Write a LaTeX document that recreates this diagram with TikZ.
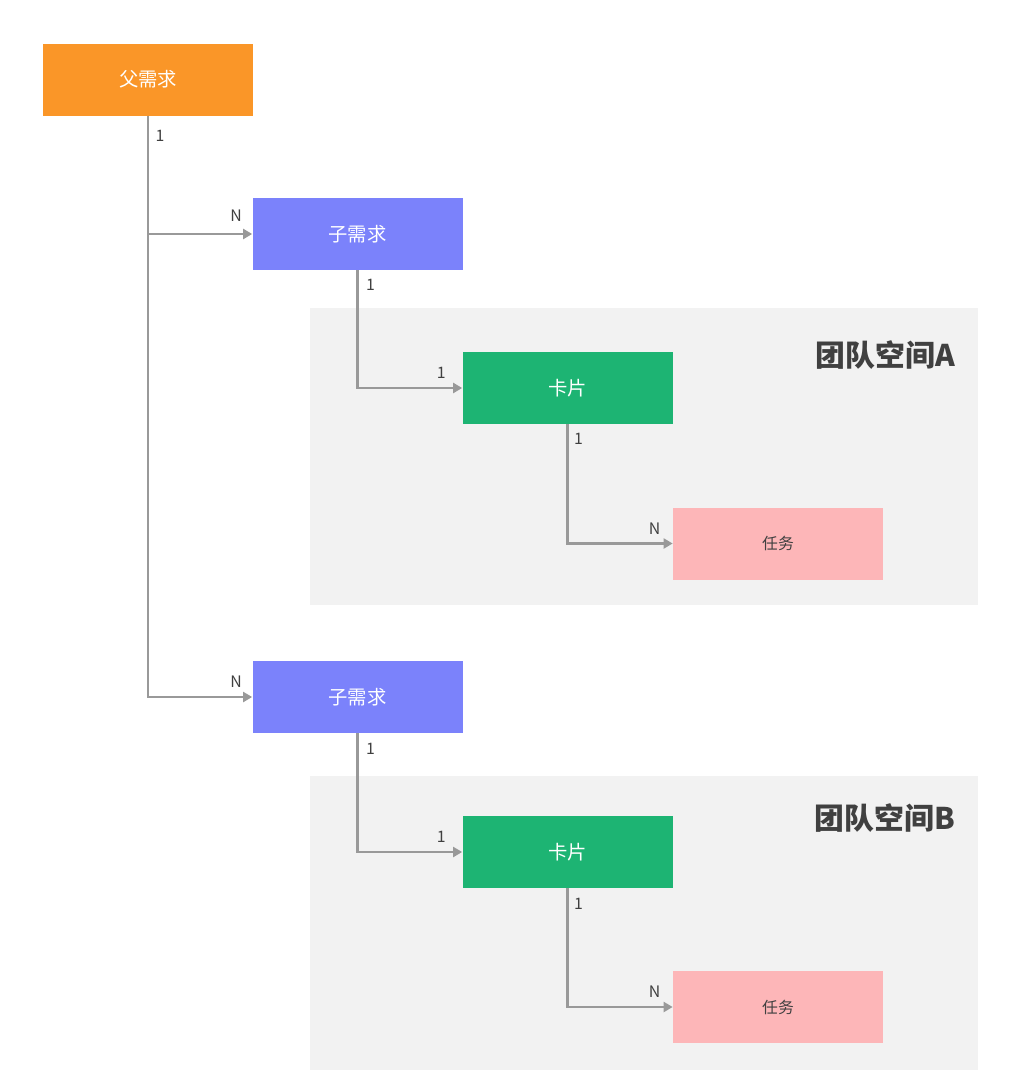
\documentclass[tikz,border=0pt]{standalone}
\usepackage{fontspec}
\setmainfont{Noto Sans CJK SC}
\usetikzlibrary{positioning}
\usetikzlibrary{arrows.meta}

\definecolor{reqorange}{HTML}{FA9628}
\definecolor{subblue}{HTML}{7B82FB}
\definecolor{cardgreen}{HTML}{1DB473}
\definecolor{taskpink}{HTML}{FDB6B8}
\definecolor{spacegray}{HTML}{F2F2F2}
\definecolor{linkgray}{HTML}{999999}
\definecolor{txtgray}{HTML}{404040}

\begin{document}
\begin{tikzpicture}[every node/.style={font=\fontsize{11pt}{13pt}\selectfont},
    box/.style={minimum width=4.2cm,minimum height=1.44cm,inner sep=0pt,text=white},
    link/.style={draw=linkgray,line width=1.2pt,-{Triangle[length=1.8mm,width=2mm]}},
    lbl/.style={font=\fontsize{9pt}{11pt}\selectfont,text=txtgray,inner sep=0pt},
    title/.style={anchor=east,font=\fontsize{17pt}{19pt}\selectfont\bfseries,text=txtgray}]
            \useasboundingbox (0,0) rectangle (20.24,-21.76);
            % team spaces
            \fill[spacegray] (6.2,-6.16) rectangle (19.56,-12.1);
            \fill[spacegray] (6.2,-15.52) rectangle (19.56,-21.4);
            \node[title] (spaceA) at (19.22,-7.1) {团队空间A};
            \node[title] (spaceB) at (19.22,-16.36) {团队空间B};
            % boxes
            \node[box,fill=reqorange] (parent) at (2.96,-1.59) {父需求};
            \node[box,fill=subblue] (sub1) at (7.15,-4.68) {子需求};
            \node[box,fill=cardgreen] (card1) at (11.35,-7.76) {卡片};
            \node[box,fill=taskpink,text=txtgray,font=\fontsize{9pt}{11pt}\selectfont] (task1) at (15.56,-10.87) {任务};
            \node[box,fill=subblue] (sub2) at (7.15,-13.94) {子需求};
            \node[box,fill=cardgreen] (card2) at (11.35,-17.04) {卡片};
            \node[box,fill=taskpink,text=txtgray,font=\fontsize{9pt}{11pt}\selectfont] (task2) at (15.56,-20.14) {任务};
            % connectors
            \draw[link] (parent.south) |- (sub1.west);
            \draw[link] (parent.south) |- (sub2.west);
            \draw[link] (sub1.south) |- (card1.west);
            \draw[link] (card1.south) |- (task1.west);
            \draw[link] (sub2.south) |- (card2.west);
            \draw[link] (card2.south) |- (task2.west);
            % multiplicities
            \node[lbl] (pOne) at ([shift={(0.24,-0.4)}]parent.south) {1};
            \node[lbl] (s1N) at ([shift={(-0.32,0.36)}]sub1.west) {N};
            \node[lbl] (s2N) at ([shift={(-0.32,0.3)}]sub2.west) {N};
            \node[lbl] (s1One) at ([shift={(0.26,-0.3)}]sub1.south) {1};
            \node[lbl] (c1In) at ([shift={(-0.42,0.3)}]card1.west) {1};
            \node[lbl] (c1One) at ([shift={(0.22,-0.3)}]card1.south) {1};
            \node[lbl] (t1N) at ([shift={(-0.36,0.3)}]task1.west) {N};
            \node[lbl] (s2One) at ([shift={(0.26,-0.3)}]sub2.south) {1};
            \node[lbl] (c2In) at ([shift={(-0.42,0.3)}]card2.west) {1};
            \node[lbl] (c2One) at ([shift={(0.22,-0.3)}]card2.south) {1};
            \node[lbl] (t2N) at ([shift={(-0.36,0.3)}]task2.west) {N};
        \end{tikzpicture}
\end{document}
